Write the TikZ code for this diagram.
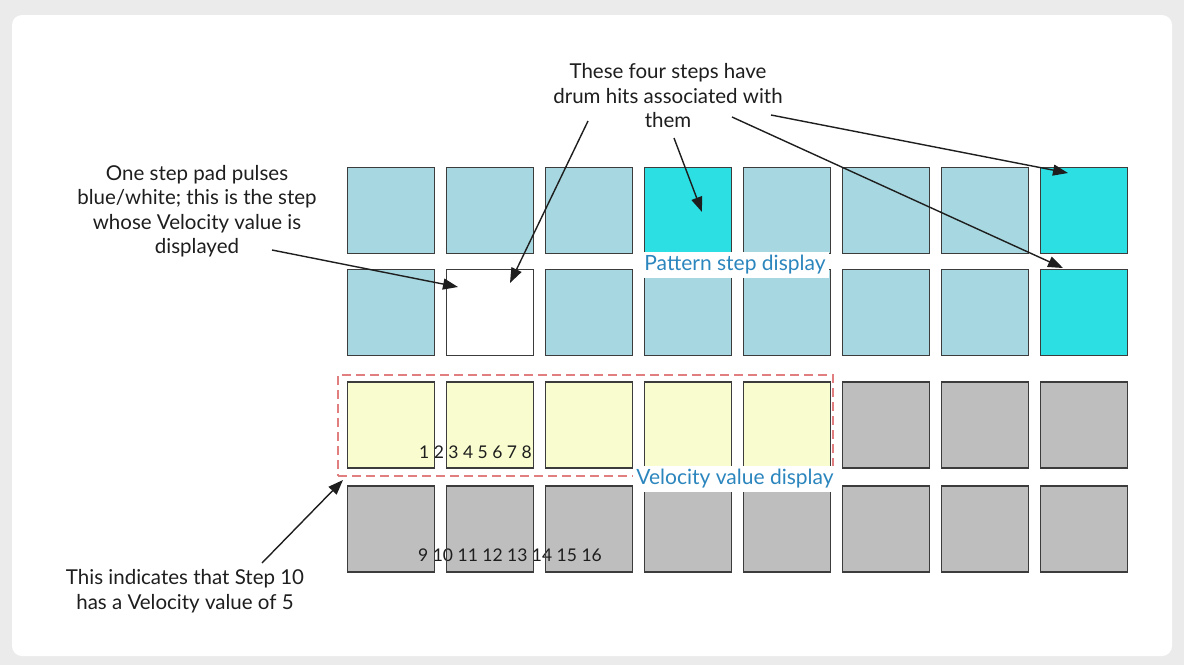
\documentclass[tikz,border=0pt]{standalone}
\usepackage{fontspec}
\setmainfont{Lato}
\usetikzlibrary{arrows.meta}
\definecolor{padblue}{HTML}{A7D7E0}
\definecolor{padcyan}{HTML}{2BDFE3}
\definecolor{padyellow}{HTML}{F9FCCF}
\definecolor{padgray}{HTML}{BEBEBE}
\definecolor{padedge}{HTML}{3C3C3C}
\definecolor{labelblue}{HTML}{2C86BE}
\definecolor{dashred}{HTML}{E07E80}
\definecolor{framegray}{HTML}{EBEBEB}
\definecolor{inktext}{HTML}{1E1E1E}
\begin{document}
\begin{tikzpicture}[x=1pt,y=-1pt,
 pad/.style={minimum width=87pt, minimum height=86pt, inner sep=0pt, outer sep=0pt},
 padedge/.style={draw=padedge, line width=1.3pt},
 callout/.style={align=center, font=\fontsize{20.5}{24.5}\selectfont, text=inktext, inner sep=0pt},
 tag/.style={fill=white, text=labelblue, font=\fontsize{21}{22}\selectfont, inner sep=3pt},
 ptr/.style={-{Triangle[length=15pt,width=11pt]}, line width=1.4pt, draw=inktext},
 nums/.style={font=\fontsize{17.5}{18}\selectfont, text=inktext, inner sep=0pt, anchor=base west}]
\useasboundingbox (0,0) rectangle (1184,665);
\fill[framegray] (0,0) rectangle (1184,665);
\fill[white, rounded corners=10pt] (12,15) rectangle (1172,656);
% row 0
\foreach \c/\col in {0/padblue,1/padblue,2/padblue,3/padcyan,4/padblue,5/padblue,6/padblue,7/padcyan}
  \node[pad, fill=\col] (p0\c) at ({391+99*\c},210.5) {};
% row 1
\foreach \c/\col in {0/padblue,1/white,2/padblue,3/padblue,4/padblue,5/padblue,6/padblue,7/padcyan}
  \node[pad, fill=\col] (p1\c) at ({391+99*\c},312.5) {};
% row 2
\foreach \c/\col in {0/padyellow,1/padyellow,2/padyellow,3/padyellow,4/padyellow,5/padgray,6/padgray,7/padgray}
  \node[pad, fill=\col] (p2\c) at ({391+99*\c},425) {};
% row 3
\foreach \c in {0,...,7}
  \node[pad, fill=padgray] (p3\c) at ({391+99*\c},529) {};
% numbers (pad borders are drawn over them)
\node[nums] (n1) at (419,458) {1 2 3 4 5 6 7 8};
\node[nums] (n2) at (418,561) {9 10 11 12 13 14 15 16};
% pad borders
\foreach \r in {0,...,3}
  \foreach \c in {0,...,7}
    \draw[padedge] (p\r\c.south west) rectangle (p\r\c.north east);
% dashed velocity box
\node[draw=dashred, dashed, dash pattern=on 9pt off 5pt, line width=1.3pt, minimum width=495pt, minimum height=101pt, inner sep=0pt] (vbox) at (585.5,425.5) {};
% tags
\node[tag] (tpat) at (735,265) {Pattern step display};
\node[tag] (tvel) at (735,479) {Velocity value display};
% callouts
\node[callout] (cl) at (197,211) {One step pad pulses\\blue/white; this is the step\\whose Velocity value is\\displayed};
\node[callout] (ct) at (668,96) {These four steps have\\drum hits associated with\\them};
\node[callout] (cb) at (185,591) {This indicates that Step 10\\has a Velocity value of 5};
% arrow coordinates
\coordinate (s1) at (272,250); \coordinate (e1) at (458,287);
\coordinate (s2) at (588,121); \coordinate (e2) at (510,283);
\coordinate (s3) at (674,138); \coordinate (e3) at (702,212);
\coordinate (s4) at (732,117); \coordinate (e4) at (1063,268);
\coordinate (s5) at (771,115); \coordinate (e5) at (1068,173);
\coordinate (s6) at (262,563); \coordinate (e6) at (343,480);
\foreach \i in {1,...,6} \draw[ptr] (s\i) -- (e\i);
\end{tikzpicture}
\end{document}
